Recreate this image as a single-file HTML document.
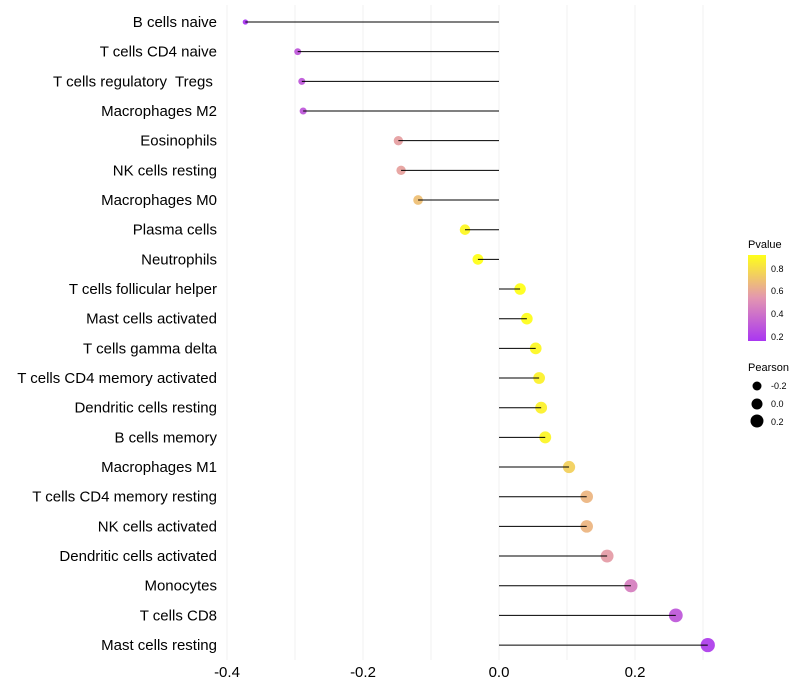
<!DOCTYPE html>
<html><head><meta charset="utf-8"><style>
body{margin:0;background:#fff;font-family:"Liberation Sans",sans-serif}
svg{display:block}
</style></head><body>
<svg id="chart" width="800" height="700" xmlns="http://www.w3.org/2000/svg">
<defs><linearGradient id="pg" x1="0" y1="1" x2="0" y2="0">
<stop offset="0" stop-color="#a020f0"/><stop offset="0.5" stop-color="#e08aa8"/><stop offset="1" stop-color="#ffff00"/>
</linearGradient></defs>
<g id="grid"></g>
<g id="dots"></g>
<g id="stems"></g>
<g id="ylabels"></g>
<g id="xlabels"></g>
<g>
<text x="748" y="248" font-size="11">Pvalue</text>
<rect x="748" y="255" width="18" height="86" fill="url(#pg)" opacity="0.9"/>
<text x="771" y="272" font-size="9">0.8</text>
<text x="771" y="294" font-size="9">0.6</text>
<text x="771" y="317" font-size="9">0.4</text>
<text x="771" y="340" font-size="9">0.2</text>
</g>
<g>
<text x="748" y="371" font-size="11">Pearson</text>
<circle cx="757" cy="386" r="4.5" fill="#000"/>
<text x="771" y="389" font-size="9">-0.2</text>
<circle cx="757" cy="404" r="5.5" fill="#000"/>
<text x="771" y="407" font-size="9">0.0</text>
<circle cx="757" cy="421" r="6.5" fill="#000"/>
<text x="771" y="425" font-size="9">0.2</text>
</g>
</svg>
<script>
const categories=["B cells naive","T cells CD4 naive","T cells regulatory  Tregs ","Macrophages M2","Eosinophils","NK cells resting","Macrophages M0","Plasma cells","Neutrophils","T cells follicular helper","Mast cells activated","T cells gamma delta","T cells CD4 memory activated","Dendritic cells resting","B cells memory","Macrophages M1","T cells CD4 memory resting","NK cells activated","Dendritic cells activated","Monocytes","T cells CD8","Mast cells resting"];
const pearson=[-0.373,-0.296,-0.290,-0.288,-0.148,-0.144,-0.119,-0.050,-0.031,0.031,0.041,0.054,0.059,0.062,0.068,0.103,0.129,0.129,0.159,0.194,0.260,0.307];
const pvalue=[0.16,0.3,0.3,0.3,0.57,0.58,0.68,0.88,0.93,0.93,0.9,0.88,0.86,0.86,0.87,0.74,0.65,0.65,0.56,0.45,0.3,0.2];
const xTicks=[-0.4,-0.2,0.0,0.2];
const xTickLabels=["-0.4","-0.2","0.0","0.2"];
const NS="http://www.w3.org/2000/svg";
const x=v=>499+v*680;
const y=i=>22+i*29.67;
const pmin=0.165,pmax=0.906;
function lerp(a,b,t){return a.map((c,k)=>Math.round(c+(b[k]-c)*t));}
function color(p){let t=Math.max(0,Math.min(1,(p-pmin)/(pmax-pmin)));
const A=[160,32,240],B=[224,138,168],C=[255,255,0];
const c=t<0.5?lerp(A,B,t/0.5):lerp(B,C,(t-0.5)/0.5);return `rgb(${c})`;}
function rad(v){return Math.sqrt(Math.max(2.5,31+64*v));}
function mk(tag,attrs,parent){const e=document.createElementNS(NS,tag);for(const k in attrs)e.setAttribute(k,attrs[k]);parent.appendChild(e);return e;}
const grid=document.getElementById('grid'),dots=document.getElementById('dots'),stems=document.getElementById('stems'),yl=document.getElementById('ylabels'),xl=document.getElementById('xlabels');
for(let v=-0.4;v<=0.31;v+=0.1){const g=mk('line',{x1:x(v),x2:x(v),y1:5,y2:660,stroke:'#f2f2f2','stroke-width':1},grid);

}
categories.forEach((c,i)=>{
const d=mk('circle',{cx:x(pearson[i]),cy:y(i),r:rad(pearson[i]),fill:color(pvalue[i]),'fill-opacity':0.85},dots);


const l=mk('line',{x1:x(0),x2:x(pearson[i]),y1:y(i),y2:y(i),stroke:'#000','stroke-width':1},stems);


const t=mk('text',{x:217,y:y(i)+5,'text-anchor':'end','font-size':15,fill:'#000'},yl);
t.setAttribute('xml:space','preserve');
t.style.whiteSpace='pre';
t.textContent=c;


});
xTicks.forEach((v,i)=>{const t=mk('text',{x:x(v),y:677,'text-anchor':'middle','font-size':15,fill:'#000'},xl);
t.textContent=xTickLabels[i];

});
</script>
</body></html>
